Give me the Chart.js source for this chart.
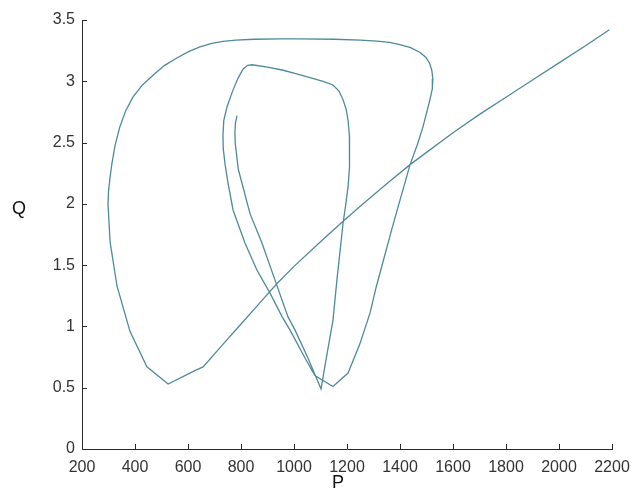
<!DOCTYPE html>
<html>
<head>
<meta charset="utf-8">
<script src="https://cdn.jsdelivr.net/npm/chart.js@4/dist/chart.umd.min.js"></script>
<style>
  html, body { margin: 0; padding: 0; background: #ffffff; }
  #wrap { position: relative; width: 634px; height: 495px; }
  #c { position: absolute; left: 0; top: 0; }
  .lbl { position: absolute; font-family: "Liberation Sans", Arial, sans-serif; font-size: 18px; color: #111; }
</style>
</head>
<body>
<div id="wrap">
  <canvas id="c" width="634" height="495"></canvas>
  <div class="lbl" id="qlab" style="left:12px; top:198px;">Q</div>
  <div class="lbl" id="plab" style="left:332px; top:472px;">P</div>
</div>
<script>
// ---- data ----
const pValues = [
  2190, 2100, 2000, 1900, 1800, 1700, 1600, 1500, 1438, 1350, 1250, 1181, 1100, 1000, 936, 866, 796, 730, 657, 626,
  525, 445, 381, 332, 306, 298, 300, 306, 313, 325, 343, 365, 392, 428, 468, 512, 558, 600, 645, 690, 732, 780, 850, 950, 1023, 1150, 1250, 1313, 1360, 1400, 1440, 1476, 1498, 1512, 1520, 1524, 1522, 1513, 1500, 1487, 1465, 1438, 1400, 1370, 1340, 1310, 1287, 1249, 1204,
  1147, 1079, 1042, 985, 955, 910, 860, 815, 770, 751, 740, 733, 732, 735, 747, 770, 790, 808, 825, 842,
  900, 959, 1010, 1060, 1110, 1147, 1170, 1185, 1197, 1204, 1209, 1211, 1208, 1204, 1195, 1185, 1162, 1147, 1125, 1102,
  1053, 1004, 977, 928, 879, 834, 806, 790, 785, 778, 777, 779, 785
];
const qValues = [
  3.42, 3.29, 3.15, 3.01, 2.87, 2.73, 2.58, 2.42, 2.32, 2.165, 1.98, 1.85, 1.69, 1.49, 1.35, 1.18, 1.01, 0.85, 0.67, 0.64,
  0.53, 0.67, 0.96, 1.33, 1.69, 2.00, 2.10, 2.22, 2.33, 2.48, 2.63, 2.76, 2.87, 2.97, 3.05, 3.13, 3.19, 3.24, 3.28, 3.31, 3.325, 3.335, 3.343, 3.346, 3.346, 3.343, 3.336, 3.328, 3.318, 3.30, 3.275, 3.235, 3.195, 3.145, 3.09, 3.02, 2.94, 2.85, 2.74, 2.63, 2.48, 2.32, 2.03, 1.80, 1.56, 1.32, 1.11, 0.86, 0.62,
  0.51, 0.60, 0.74, 0.97, 1.08, 1.27, 1.46, 1.68, 1.95, 2.17, 2.32, 2.45, 2.56, 2.68, 2.79, 2.93, 3.03, 3.10, 3.13, 3.135,
  3.115, 3.09, 3.06, 3.03, 3.00, 2.97, 2.92, 2.85, 2.77, 2.68, 2.56, 2.44, 2.30, 2.14, 1.99, 1.84, 1.38, 1.05, 0.78, 0.49,
  0.74, 0.97, 1.08, 1.38, 1.68, 1.92, 2.15, 2.28, 2.37, 2.50, 2.58, 2.66, 2.72
];
const xTickValues = [200, 400, 600, 800, 1000, 1200, 1400, 1600, 1800, 2000, 2200];
const yTickValues = [0, 0.5, 1, 1.5, 2, 2.5, 3, 3.5];

const points = pValues.map((p, i) => ({ x: p, y: qValues[i] }));

const axisColor = '#2a2a2a';
const tickFont = { family: '"Liberation Sans", Arial, sans-serif', size: 16 };

const inwardTicks = {
  id: 'inwardTicks',
  afterDraw(chart) {
    const ctx = chart.ctx;
    const xs = chart.scales.x, ys = chart.scales.y;
    const area = chart.chartArea;
    ctx.save();
    ctx.strokeStyle = axisColor;
    ctx.lineWidth = 1;
    ctx.beginPath();
    xTickValues.forEach(v => {
      const px = Math.round(xs.getPixelForValue(v)) + 0.5;
      ctx.moveTo(px, area.bottom);
      ctx.lineTo(px, area.bottom - 5);
    });
    yTickValues.forEach(v => {
      const py = Math.round(ys.getPixelForValue(v)) + 0.5;
      ctx.moveTo(area.left, py);
      ctx.lineTo(area.left + 5, py);
    });
    ctx.stroke();
    ctx.restore();
  }
};

new Chart(document.getElementById('c'), {
  type: 'scatter',
  data: {
    datasets: [{
      data: points,
      showLine: true,
      borderColor: '#4f8a99',
      borderWidth: 1.3,
      pointRadius: 0,
      tension: 0,
      fill: false
    }]
  },
  options: {
    responsive: false,
    animation: false,
    layout: { autoPadding: false, padding: { top: 20, right: 22, left: 0, bottom: 0 } },
    plugins: { legend: { display: false }, tooltip: { enabled: false } },
    scales: {
      x: {
        type: 'linear',
        min: 200, max: 2200,
        afterBuildTicks: s => { s.ticks = xTickValues.map(v => ({ value: v })); },
        afterFit: s => { s.height = 46; s.paddingLeft = 0; s.paddingRight = 0; },
        grid: { display: false, drawTicks: false },
        border: { display: true, color: axisColor, width: 1 },
        ticks: { color: '#333', font: tickFont, padding: 9, maxRotation: 0, callback: v => String(v) }
      },
      y: {
        type: 'linear',
        min: 0, max: 3.5,
        afterBuildTicks: s => { s.ticks = yTickValues.map(v => ({ value: v })); },
        afterFit: s => { s.width = 82; s.paddingTop = 0; s.paddingBottom = 0; },
        grid: { display: false, drawTicks: false },
        border: { display: true, color: axisColor, width: 1 },
        ticks: { color: '#333', font: tickFont, padding: 7, callback: v => String(v) }
      }
    }
  },
  plugins: [inwardTicks]
});
</script>
</body>
</html>
